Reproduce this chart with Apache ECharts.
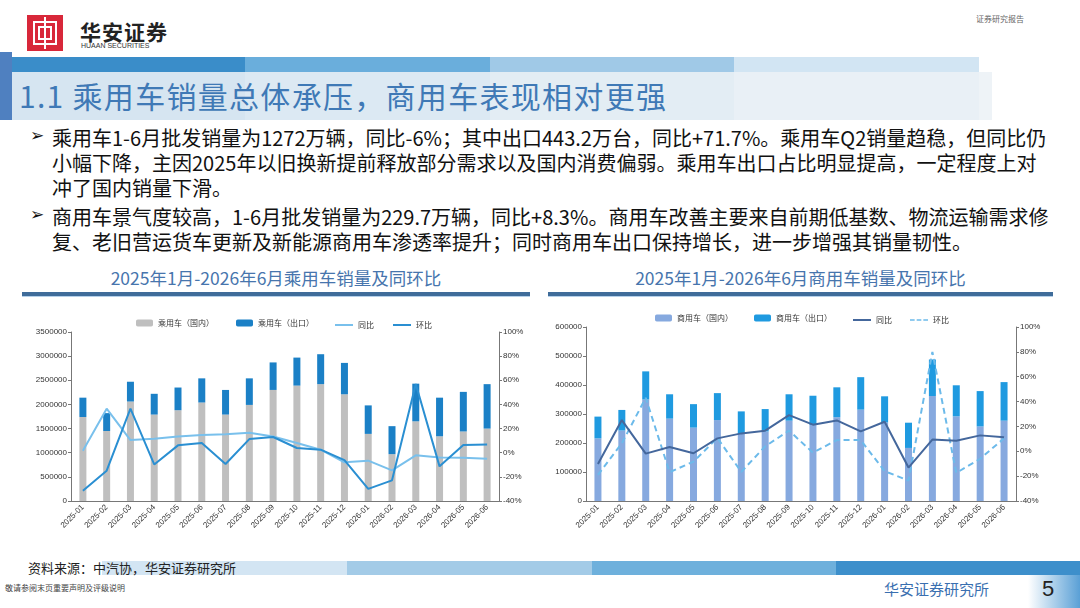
<!DOCTYPE html>
<html>
<head>
<meta charset="utf-8">
<script src="https://cdn.jsdelivr.net/npm/echarts@6/dist/echarts.min.js"></script>
<style>
  body { margin: 0; width: 1080px; height: 608px; background: #fff; position: relative; overflow: hidden;
         font-family: "Noto Sans CJK SC", sans-serif; }
  .abs { position: absolute; }
  .seg { position: absolute; height: 100%; top: 0; }
  .txt { position: absolute; left: 52px; font-size: 20px; color: #111; white-space: nowrap; line-height: 25px; }
  .bul { position: absolute; left: 30px; font-size: 17px; color: #111; font-family: "DejaVu Sans"; }
  .ctitle { position: absolute; top: 265px; font-size: 17.5px; color: #4775ad; text-align: center; line-height: 26px; }
  .cline { position: absolute; top: 292px; height: 4px; background: #3f6c9a; border-bottom: 1px solid #b4d0ea; }
</style>
</head>
<body>
<!-- 页眉 -->
<div class="abs" style="left:27px;top:15px;width:36px;height:36px;background:#d8283a;"></div>
<div class="abs" style="left:33px;top:21px;width:24px;height:24px;border:2px solid #fff;box-sizing:border-box;"></div>
<div class="abs" style="left:38px;top:26px;width:14px;height:14px;border:2px solid #fff;box-sizing:border-box;"></div>
<div class="abs" style="left:44px;top:17px;width:2px;height:32px;background:#fff;"></div>
<div class="abs" style="left:80px;top:16px;font-size:21px;font-weight:bold;color:#222;letter-spacing:1px;">华安证券</div>
<div class="abs" style="left:81px;top:42px;font-size:7px;color:#333;font-family:'Liberation Sans';">HUAAN SECURITIES</div>
<div class="abs" style="left:976px;top:13px;font-size:8px;color:#666;">证券研究报告</div>

<div class="abs" style="left:0;top:57px;width:979px;height:63px;">
  <div class="seg" style="left:0;width:245px;background:#3a8dc9;"></div>
  <div class="seg" style="left:245px;width:245px;background:#6aaedc;"></div>
  <div class="seg" style="left:490px;width:244px;background:#a0c9e7;"></div>
  <div class="seg" style="left:734px;width:245px;background:#d2e5f3;"></div>
</div>
<div class="abs" style="left:12px;top:72px;width:980px;height:48px;background:rgba(236,241,246,0.88);"></div>
<div class="abs" style="left:0;top:52px;width:12px;height:68px;background:#4f80c0;"></div>
<div class="abs" style="left:19px;top:74px;font-size:30px;color:#3f79b6;line-height:42px;white-space:nowrap;letter-spacing:1.3px;">1.1 乘用车销量总体承压，商用车表现相对更强</div>

<!-- 正文 -->
<div class="bul" style="top:125px;">➢</div>
<div class="txt" style="top:125px;">乘用车1-6月批发销量为1272万辆，同比-6%；其中出口443.2万台，同比+71.7%。乘用车Q2销量趋稳，但同比仍</div>
<div class="txt" style="top:150px;">小幅下降，主因2025年以旧换新提前释放部分需求以及国内消费偏弱。乘用车出口占比明显提高，一定程度上对</div>
<div class="txt" style="top:175px;">冲了国内销量下滑。</div>
<div class="bul" style="top:204px;">➢</div>
<div class="txt" style="top:204px;">商用车景气度较高，1-6月批发销量为229.7万辆，同比+8.3%。商用车改善主要来自前期低基数、物流运输需求修</div>
<div class="txt" style="top:229px;">复、老旧营运货车更新及新能源商用车渗透率提升；同时商用车出口保持增长，进一步增强其销量韧性。</div>

<div class="ctitle" style="left:22px;width:508px;">2025年1月-2026年6月乘用车销量及同环比</div>
<div class="cline" style="left:22px;width:508px;"></div>
<div class="ctitle" style="left:548px;width:505px;">2025年1月-2026年6月商用车销量及同环比</div>
<div class="cline" style="left:548px;width:505px;"></div>

<div id="chartsDiv" class="abs" style="left:0;top:300px;width:1080px;height:250px;"></div>

<!-- 页脚 -->
<div class="abs" style="left:0;top:561px;width:1080px;height:14px;">
  <div class="seg" style="left:102px;width:245px;background:#d3e5f3;"></div>
  <div class="seg" style="left:347px;width:245px;background:#a3cbe7;"></div>
  <div class="seg" style="left:592px;width:244px;background:#6eb0dc;"></div>
  <div class="seg" style="left:836px;width:244px;background:#3d8fcb;"></div>
</div>
<div class="abs" style="left:28px;top:558px;font-size:13px;color:#222;">资料来源：中汽协，华安证券研究所</div>
<div class="abs" style="left:5px;top:582px;font-size:8px;color:#444;">敬请参阅末页重要声明及评级说明</div>
<div class="abs" style="left:884px;top:578px;font-size:15px;color:#3a6fb0;">华安证券研究所</div>
<div class="abs" style="left:1028px;top:575px;width:52px;height:33px;background:linear-gradient(to right,#ffffff,#5aa0d6);"></div>
<div class="abs" style="left:1042px;top:576px;font-size:22px;color:#222;font-family:'Liberation Sans';">5</div>

<script>
var months = ['2025-01', '2025-02', '2025-03', '2025-04', '2025-05', '2025-06', '2025-07', '2025-08', '2025-09',
  '2025-10', '2025-11', '2025-12', '2026-01', '2026-02', '2026-03', '2026-04', '2026-05', '2026-06'];

// 乘用车（辆）
var pcDomestic = [1740000, 1450000, 2060000, 1790000, 1880000, 2040000, 1790000, 1990000, 2300000,
  2390000, 2420000, 2210000, 1390000, 970000, 1650000, 1340000, 1440000, 1500000];
var pcExport = [400000, 370000, 410000, 430000, 470000, 500000, 510000, 550000, 570000,
  580000, 620000, 650000, 590000, 580000, 780000, 800000, 820000, 920000];
// 同比 / 环比（%）
var pcYoY = [1.7, 36.5, 10.5, 11.6, 13.5, 14.6, 15.2, 16.6, 13.5, 8, 2.5, -8, -6.6, -14.6, -2.2, -3.9, -4.1, -5];
var pcMoM = [-31.5, -14.9, 36.5, -9.7, 6.1, 8, -9.4, 11.3, 13, 3.9, 2.5, -6.1, -30, -22.9, 57, -11.3, 6.4, 6.9];

// 商用车（辆）
var cvDomestic = [216000, 243000, 350000, 284000, 253000, 279000, 232000, 240000, 277000,
  262000, 289000, 315000, 271000, 183000, 362000, 292000, 257000, 277000];
var cvExport = [75000, 71000, 97000, 84000, 81000, 93000, 77000, 77000, 91000,
  101000, 103000, 112000, 90000, 87000, 126000, 107000, 122000, 133000];
var cvYoY = [-10.2, 25.1, -1.9, 3.5, -1.6, 10.4, 14.4, 16.6, 29.1, 21.4, 24.8, 16, 23.8, -13.1, 9.4, 8.5, 12.8, 11.2];
var cvMoM = [-19, 6.4, 43, -16.8, -8.3, 10.7, -16.6, 4, 16.6, -1.1, 9, 9, -16, -23.5, 80, -17.4, -6, 10.4];

var axisColor = '#777';
var labelStyle = { color: '#333', fontSize: 8, fontFamily: 'Liberation Sans' };
var solidIcon = 'rect';
var dashIcon = 'path://M0,0h7v2h-7z M10,0h7v2h-7z M20,0h7v2h-7z';

function legendItem(name, left, top, icon) {
  var lg = {
    data: [name], left: left, top: top, itemWidth: 17, itemHeight: 7, padding: 0, itemGap: 3,
    textStyle: { fontSize: 8, color: '#333', fontFamily: 'Noto Sans CJK SC' }
  };
  if (icon) {
    lg.icon = icon;
    lg.itemWidth = 18;
    lg.itemHeight = 2;
  }
  return lg;
}

function catAxis(gridIndex) {
  return {
    type: 'category', gridIndex: gridIndex, data: months,
    axisLine: { lineStyle: { color: axisColor } },
    axisTick: { length: 3, lineStyle: { color: axisColor } },
    axisLabel: Object.assign({ rotate: 45, interval: 0, margin: 5 }, labelStyle),
    splitLine: { show: false }
  };
}

function valAxis(gridIndex, pos, max, interval, min, fmt) {
  return {
    type: 'value', gridIndex: gridIndex, position: pos, min: min, max: max, interval: interval,
    axisLine: { show: true, lineStyle: { color: axisColor } },
    axisTick: { show: true, length: 3, lineStyle: { color: axisColor } },
    axisLabel: Object.assign({ margin: 4, formatter: fmt }, labelStyle),
    splitLine: { show: false }
  };
}

var pct = function (v) { return v + '%'; };
var raw = function (v) { return String(v); };

var realChart = echarts.init(document.getElementById('chartsDiv'));
var option = {
  animation: false,
  grid: [
    { left: 71, top: 32, width: 428, height: 169 },
    { left: 586, top: 27, width: 430, height: 174 }
  ],
  legend: [
    legendItem('乘用车（国内）', 136, 19),
    legendItem('乘用车（出口）', 236, 19),
    legendItem('同比', 335, 21, solidIcon),
    legendItem('环比', 393, 21, solidIcon),
    legendItem('商用车（国内）', 655, 14),
    legendItem('商用车（出口）', 754, 14),
    legendItem('同比 ', 853, 16, solidIcon),
    legendItem('环比 ', 910, 16, dashIcon)
  ],
  xAxis: [catAxis(0), catAxis(1)],
  yAxis: [
    valAxis(0, 'left', 3500000, 500000, 0, raw),
    valAxis(0, 'right', 100, 20, -40, pct),
    valAxis(1, 'left', 600000, 100000, 0, raw),
    valAxis(1, 'right', 100, 20, -40, pct)
  ],
  series: [
    { name: '乘用车（国内）', type: 'bar', stack: 'pc', barWidth: 7, data: pcDomestic,
      itemStyle: { color: '#bfbfbf' } },
    { name: '乘用车（出口）', type: 'bar', stack: 'pc', barWidth: 7, data: pcExport,
      itemStyle: { color: '#1b80c6' } },
    { name: '同比', type: 'line', yAxisIndex: 1, data: pcYoY, symbol: 'none', z: 5,
      lineStyle: { color: '#79c0ec', width: 2 }, itemStyle: { color: '#79c0ec' } },
    { name: '环比', type: 'line', yAxisIndex: 1, data: pcMoM, symbol: 'none', z: 6,
      lineStyle: { color: '#2a8fd2', width: 2 }, itemStyle: { color: '#2a8fd2' } },

    { name: '商用车（国内）', type: 'bar', stack: 'cv', xAxisIndex: 1, yAxisIndex: 2, barWidth: 7, data: cvDomestic,
      itemStyle: { color: '#86a9df' } },
    { name: '商用车（出口）', type: 'bar', stack: 'cv', xAxisIndex: 1, yAxisIndex: 2, barWidth: 7, data: cvExport,
      itemStyle: { color: '#1f9ae0' } },
    { name: '同比 ', type: 'line', xAxisIndex: 1, yAxisIndex: 3, data: cvYoY, symbol: 'none', z: 6,
      lineStyle: { color: '#44679c', width: 2 }, itemStyle: { color: '#44679c' } },
    { name: '环比 ', type: 'line', xAxisIndex: 1, yAxisIndex: 3, data: cvMoM, symbol: 'none', z: 5,
      lineStyle: { color: '#6cbaea', width: 2, type: [6, 4] }, itemStyle: { color: '#6cbaea' } }
  ]
};
realChart.setOption(option);
</script>
</body>
</html>
